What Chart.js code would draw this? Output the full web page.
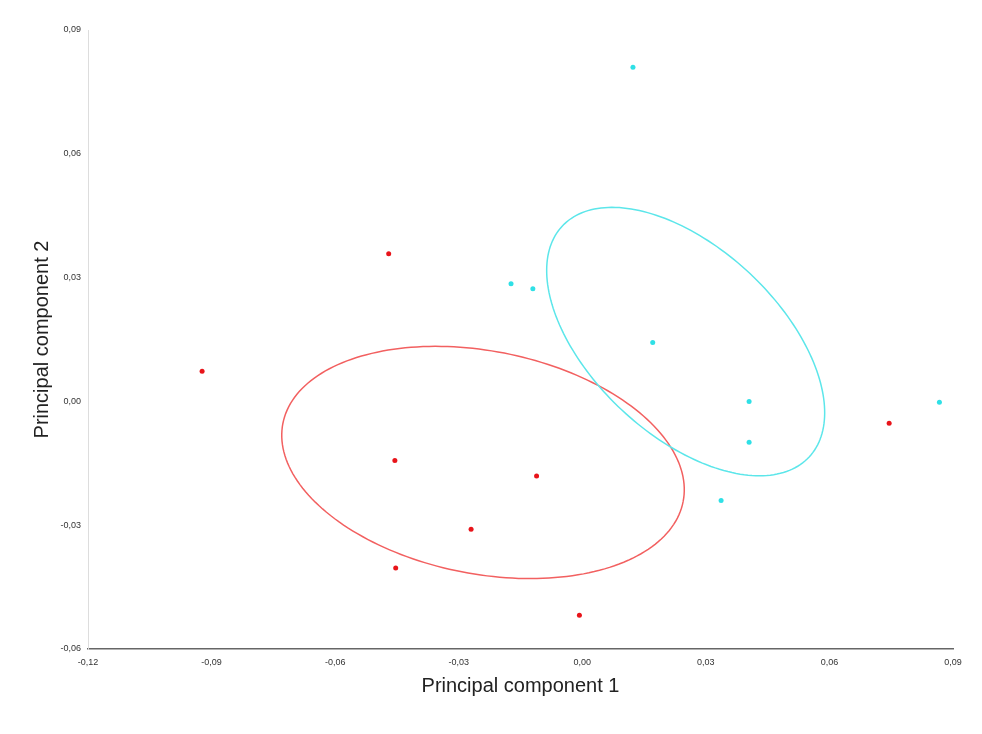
<!DOCTYPE html>
<html><head><meta charset="utf-8">
<script src="https://cdn.jsdelivr.net/npm/chart.js@4"></script>
<style>html,body{margin:0;background:#fff}#w{width:982px;height:734px}</style>
</head><body><div id="w"><canvas id="c"></canvas></div>
<script>
const xTicks=[-0.12,-0.09,-0.06,-0.03,0.00,0.03,0.06,0.09];
const yTicks=[-0.06,-0.03,0.00,0.03,0.06,0.09];
const redX=[-0.0923,-0.0470,-0.0455,-0.0111,-0.0270,-0.0453,-0.0007,0.0745];
const redY=[0.0073,0.0358,-0.0143,-0.0181,-0.0310,-0.0404,-0.0518,-0.0053];
const cyanX=[0.0123,-0.0173,-0.0120,0.0171,0.0405,0.0405,0.0337,0.0867];
const cyanY=[0.0810,0.0285,0.0273,0.0143,0.0000,-0.0099,-0.0240,-0.0002];
// ellipses: [cx, cy, semiMajor, semiMinor, angleDeg]
const redEllipse=[-0.0241,-0.0148,0.0495,0.0270,-11];
const cyanEllipse=[0.0251,0.0145,0.0410,0.0227,-43];
const fmt=v=>v.toFixed(2).replace('.',',');
const ellipsePlugin={id:'ell',afterDatasetsDraw(ch){
 const {ctx,scales:{x,y}}=ch;
 [[redEllipse,'#f26060'],[cyanEllipse,'#5ce6ea']].forEach(([e,col])=>{
  const [cx,cy,a,b,ang]=e;const t=ang*Math.PI/180;
  ctx.save();ctx.strokeStyle=col;ctx.lineWidth=1.5;ctx.beginPath();
  for(let i=0;i<=200;i++){const u=i/200*2*Math.PI;
   const dx=a*Math.cos(u),dy=b*Math.sin(u);
   const px=x.getPixelForValue(cx+dx*Math.cos(t)-dy*Math.sin(t));
   const py=y.getPixelForValue(cy+dx*Math.sin(t)+dy*Math.cos(t));
   i?ctx.lineTo(px,py):ctx.moveTo(px,py);}
  ctx.stroke();ctx.restore();});
}};
new Chart(document.getElementById('c'),{type:'scatter',
 data:{datasets:[
  {data:redX.map((v,i)=>({x:v,y:redY[i]})),backgroundColor:'#e8141a',borderWidth:0,pointRadius:2.5},
  {data:cyanX.map((v,i)=>({x:v,y:cyanY[i]})),backgroundColor:'#2fe0e6',borderWidth:0,pointRadius:2.5}]},
 options:{responsive:true,maintainAspectRatio:false,animation:false,
  layout:{padding:{top:30,right:29,left:26,bottom:32}},
  plugins:{legend:{display:false},tooltip:{enabled:false}},
  scales:{
   x:{min:-0.12,max:0.09,afterBuildTicks:s=>{s.ticks=xTicks.map(v=>({value:v}))},
    afterFit:s=>{s.height=53},
    grid:{display:false,drawTicks:true,tickLength:5,tickColor:'#999'},border:{color:'#666',width:1.5},
    ticks:{callback:v=>fmt(v),font:{size:9,family:'Liberation Sans'},color:'#333',maxRotation:0,autoSkip:false},
    title:{display:true,text:'Principal component 1',font:{size:20,family:'Liberation Sans'},color:'#222',padding:{top:4}}},
   y:{min:-0.06,max:0.09,afterBuildTicks:s=>{s.ticks=yTicks.map(v=>({value:v}))},
    afterFit:s=>{s.width=62},
    grid:{display:false,drawTicks:true,tickLength:4,tickColor:'#bbb'},border:{color:'#ddd',width:1},
    ticks:{callback:v=>fmt(v),font:{size:9,family:'Liberation Sans'},color:'#333',autoSkip:false},
    title:{display:true,text:'Principal component 2',font:{size:20,family:'Liberation Sans'},color:'#222',padding:{bottom:4}}}}},
 plugins:[ellipsePlugin]});
</script></body></html>
